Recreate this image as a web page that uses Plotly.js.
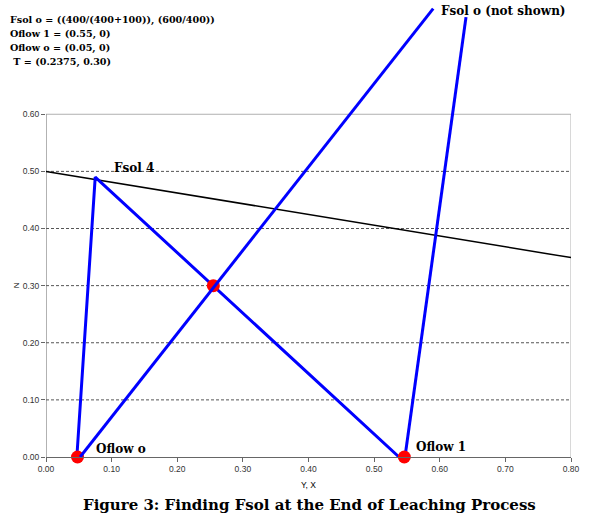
<!DOCTYPE html>
<html>
<head>
<meta charset="utf-8">
<script src="https://cdn.plot.ly/plotly-3.0.1.min.js"></script>
<style>html,body{margin:0;padding:0;background:#fff;}</style>
</head>
<body>
<div id="chart" style="width:591px;height:517px;"></div>
<script>
// Operating line (black): from y-axis to right edge
const opX = [0.00, 0.80];
const opY = [0.500, 0.349];

// Blue construction lines
const pathX = [0.047, 0.075, 0.538];   // Oflow o -> Fsol 4 -> Oflow 1
const pathY = [0.00, 0.49, 0.00];
const rightX = [0.547, 0.640];          // Oflow 1 -> (off chart)
const rightY = [0.00, 0.770];
const diagX = [0.052, 0.590];           // Oflow o -> Fsol o (not shown)
const diagY = [0.00, 0.785];

// Red points: Oflow o, T, Oflow 1
const ptX = [0.048, 0.255, 0.546];
const ptY = [0.00, 0.30, 0.00];

// Ticks
const xTicks = [0.0, 0.1, 0.2, 0.3, 0.4, 0.5, 0.6, 0.7, 0.8];
const yTicks = [0.0, 0.1, 0.2, 0.3, 0.4, 0.5, 0.6];
const yMaxShown = 0.6;
const xMaxShown = 0.8;

const infoLines = [
  "Fsol o = ((400/(400+100)), (600/400))",
  "Oflow 1 = (0.55, 0)",
  "Oflow o = (0.05, 0)",
  "\u00a0T = (0.2375, 0.30)"
];
const caption = "Figure 3: Finding Fsol at the End of Leaching Process";

const blue = '#0000ff';
const serif = 'DejaVu Serif, serif';

const traces = [
  {x: opX, y: opY, mode: 'lines', line: {color: '#000', width: 1.5}, hoverinfo: 'skip'},
  {x: pathX, y: pathY, mode: 'lines', line: {color: blue, width: 3}, hoverinfo: 'skip'},
  {x: rightX, y: rightY, mode: 'lines', line: {color: blue, width: 3}, hoverinfo: 'skip'},
  {x: ptX, y: ptY, mode: 'markers', marker: {color: '#ff0000', size: 13}, cliponaxis: false, hoverinfo: 'skip'},
  {x: diagX, y: diagY, mode: 'lines', line: {color: blue, width: 3}, hoverinfo: 'skip'}
];

const shapes = [];
yTicks.filter(v => v > 0 && v < yMaxShown).forEach(v => {
  shapes.push({type: 'line', xref: 'x', yref: 'y', x0: 0, x1: xMaxShown, y0: v, y1: v,
    line: {color: '#555', width: 1, dash: '3px,2px'}, layer: 'below'});
});
shapes.push({type: 'line', xref: 'x', yref: 'y', x0: 0, x1: xMaxShown, y0: yMaxShown, y1: yMaxShown,
  line: {color: '#b0b0b0', width: 1}, layer: 'below'});
shapes.push({type: 'line', xref: 'x', yref: 'y', x0: xMaxShown, x1: xMaxShown, y0: 0, y1: yMaxShown,
  line: {color: '#b0b0b0', width: 1}, layer: 'below'});
shapes.push({type: 'line', xref: 'x', yref: 'y', x0: 0, x1: 0, y0: 0, y1: yMaxShown,
  line: {color: '#666', width: 1}, layer: 'below'});

const labFont = {family: serif, size: 12, color: '#000', weight: 'bold'};
const annotations = [
  {xref: 'x', yref: 'y', x: pathX[1], y: pathY[1], text: 'Fsol 4', showarrow: false,
   xanchor: 'left', yanchor: 'middle', xshift: 17, yshift: 9, font: labFont},
  {xref: 'x', yref: 'y', x: ptX[0], y: ptY[0], text: 'Oflow o', showarrow: false,
   xanchor: 'left', yanchor: 'middle', xshift: 16, yshift: 8, font: labFont},
  {xref: 'x', yref: 'y', x: ptX[2], y: ptY[2], text: 'Oflow 1', showarrow: false,
   xanchor: 'left', yanchor: 'middle', xshift: 10, yshift: 10, font: labFont},
  {xref: 'x', yref: 'y', x: diagX[1], y: diagY[1], text: 'Fsol o (not shown)', showarrow: false,
   xanchor: 'left', yanchor: 'middle', xshift: 6, yshift: -2, font: labFont},
  {xref: 'paper', yref: 'y', x: 0, y: yMaxShown / 2, xshift: -36, text: 'N', textangle: -90,
   showarrow: false, font: {family: 'Liberation Sans, Arial, sans-serif', size: 8, color: '#000'}},
  {xref: 'paper', yref: 'paper', x: 0.5, y: 0, yshift: -48, xshift: 1, text: caption,
   showarrow: false, xanchor: 'center', yanchor: 'middle',
   font: {family: serif, size: 15, color: '#000', weight: 'bold'}}
];
infoLines.forEach((t, i) => {
  annotations.push({xref: 'paper', yref: 'paper', x: -46/525, y: 1, xshift: 8, yshift: -20 - 14 * i,
    text: t, showarrow: false, xanchor: 'left', yanchor: 'middle', align: 'left',
    font: {family: serif, size: 9.6, color: '#000', weight: 'bold'}});
});

const tickFont = {family: 'Liberation Sans, Arial, sans-serif', size: 8.5, color: '#333'};

const layout = {
  width: 591, height: 517,
  margin: {l: 46, r: 20, t: 0, b: 60},
  paper_bgcolor: '#fff', plot_bgcolor: '#fff',
  showlegend: false,
  xaxis: {
    range: [0, xMaxShown], tickvals: xTicks, tickformat: '.2f',
    showgrid: false, zeroline: false, showline: true, linecolor: '#666', linewidth: 1,
    ticks: 'outside', ticklen: 4, tickcolor: '#666', tickfont: tickFont,
    title: {text: 'Y, X', font: {family: 'Liberation Sans, Arial, sans-serif', size: 8.5, color: '#000'}, standoff: 8},
    fixedrange: true
  },
  yaxis: {
    range: [0, 0.8], tickvals: yTicks, tickformat: '.2f',
    showgrid: false, zeroline: false, showline: false,
    ticks: 'outside', ticklen: 4, tickcolor: '#666', tickfont: tickFont,
    fixedrange: true
  },
  shapes: shapes,
  annotations: annotations
};

Plotly.newPlot('chart', traces, layout, {staticPlot: true, displayModeBar: false});
</script>
</body>
</html>
